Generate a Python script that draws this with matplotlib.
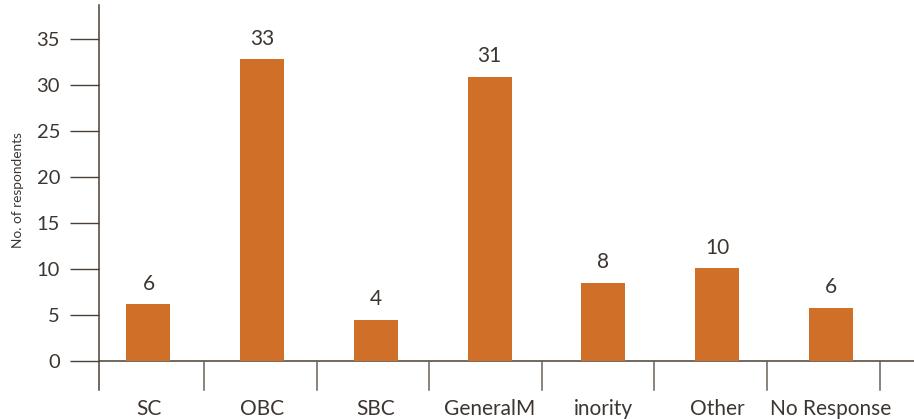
import matplotlib
matplotlib.use("Agg")
import matplotlib.pyplot as plt
import numpy as np

categories = ["SC", "OBC", "SBC", "GeneralM", "inority", "Other", "No Response"]
bar_heights = [6.2, 32.8, 4.5, 30.9, 8.5, 10.1, 5.8]
value_labels = ["6", "33", "4", "31", "8", "10", "6"]
y_ticks = [0, 5, 10, 15, 20, 25, 30, 35]
y_label = "No. of respondents"

plt.rcParams['font.family'] = ['Lato', 'DejaVu Sans']

BAR = "#D07028"
TXT = "#3d3530"
AX = "#4b4036"

fig = plt.figure(figsize=(9.14, 4.19), dpi=100)
ax = fig.add_axes([99/914, 1-390/419, 1-99/914, (390-5)/419])

x = np.arange(len(categories))
ax.bar(x, bar_heights, width=0.387, color=BAR, zorder=2)

ylo = -3.15
ax.set_ylim(ylo, 38.7)
ax.set_xlim(-0.435, 6.733)

for s in ["top", "right", "bottom"]:
    ax.spines[s].set_visible(False)
ax.spines["left"].set_color(AX)
ax.spines["left"].set_linewidth(1.1)

ax.axhline(0, color=AX, lw=1.1, zorder=1)
for b in np.arange(len(categories)) + 0.5 - 0.01 * np.arange(1, len(categories) + 1):
    ax.plot([b, b], [ylo, 0], color="#6b6258", lw=1.1, clip_on=False)

ax.set_yticks(y_ticks)
ax.set_yticklabels([str(t) for t in y_ticks])
ax.tick_params(axis="y", length=21, width=1.0, color=AX, pad=7, labelsize=14.5, labelcolor=TXT)

ax.set_xticks(x)
ax.set_xticklabels(categories)
ax.tick_params(axis="x", length=0, pad=6.5, labelsize=15, labelcolor=TXT)

for xi, h, lab in zip(x, bar_heights, value_labels):
    ax.annotate(lab, (xi, h), xytext=(0, 7.5), textcoords="offset points",
                ha="center", va="bottom", fontsize=15, color=TXT)

fig.text(18/914, 1-190/419, y_label, rotation=90, ha="center", va="center",
         fontsize=9.8, color=TXT)

fig.savefig("out.png", dpi=100)
